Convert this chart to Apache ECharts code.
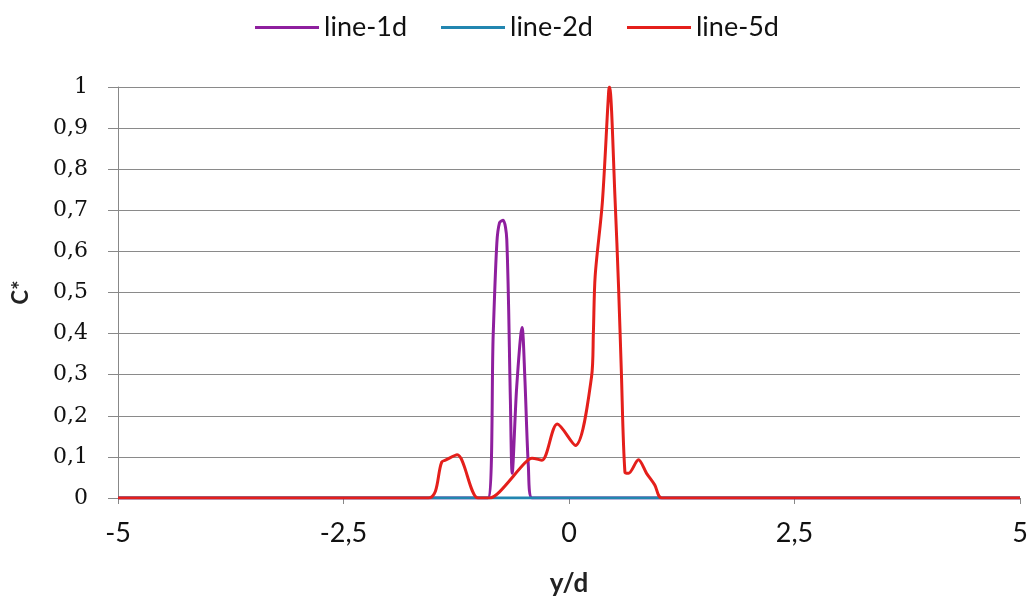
<!DOCTYPE html>
<html>
<head>
<meta charset="utf-8">
<script src="https://cdn.jsdelivr.net/npm/echarts@6/dist/echarts.min.js"></script>
<style>html,body{margin:0;padding:0;background:#fff}#c{width:1034px;height:603px}</style>
</head>
<body>
<div id="c"></div>
<script>
const seriesNames = ['line-1d', 'line-2d', 'line-5d'];
const line1dX = [-5, -0.90, -0.84, -0.80, -0.77, -0.73, -0.69, -0.65, -0.63, -0.58, -0.52, -0.49, -0.45, -0.41, 5];
const line1dY = [0, 0, 0.40, 0.62, 0.67, 0.676, 0.63, 0.24, 0.06, 0.27, 0.415, 0.295, 0.075, 0, 0];
const line2dX = [-5, 5];
const line2dY = [0, 0];
const line5dX = [-5, -1.56, -1.41, -1.37, -1.24, -1.01, -0.88, -0.77, -0.49, -0.41, -0.30, -0.13, 0.07, 0.25, 0.27, 0.29, 0.37, 0.44, 0.45, 0.51, 0.55, 0.58, 0.62, 0.66, 0.77, 0.86, 0.95, 1.03, 5];
const line5dY = [0, 0, 0.088, 0.092, 0.105, 0, 0, 0.015, 0.085, 0.097, 0.092, 0.18, 0.128, 0.295, 0.40, 0.54, 0.72, 0.99, 1.0, 0.73, 0.51, 0.31, 0.063, 0.06, 0.093, 0.06, 0.032, 0, 0];
const xTicks = [-5, -2.5, 0, 2.5, 5];
const yTicks = [0, 0.1, 0.2, 0.3, 0.4, 0.5, 0.6, 0.7, 0.8, 0.9, 1];
const colors = ['#8e1f9e', '#2286b0', '#e41f1b'];

const zip = (xs, ys) => xs.map((x, i) => [x, ys[i]]);
const fmt = v => String(Math.round(v * 100) / 100).replace('.', ',');
const sans = 'Lato, "Open Sans", sans-serif';
const serif = '"DejaVu Serif", "Liberation Serif", serif';

const chart = echarts.init(document.getElementById('c'), null, {renderer: 'canvas'});
chart.setOption({
  animation: false,
  color: colors,
  legend: {
    top: 9,
    left: 'center',
    itemGap: 34,
    itemWidth: 64,
    itemHeight: 3,
    icon: 'rect',
    textStyle: {fontFamily: sans, fontSize: 27, color: '#111'},
    data: seriesNames
  },
  grid: {left: 118, right: 14, top: 87, bottom: 105, containLabel: false},
  xAxis: {
    type: 'value',
    min: -5, max: 5, interval: 2.5,
    name: 'y/d', nameLocation: 'middle', nameGap: 73,
    nameTextStyle: {fontFamily: sans, fontSize: 26, fontWeight: 'bold', color: '#222'},
    axisLine: {show: true, onZero: false, lineStyle: {color: '#888', width: 1}},
    axisTick: {show: true, length: 6, lineStyle: {color: '#888'}},
    axisLabel: {fontFamily: sans, fontSize: 27, color: '#111', margin: 22, formatter: fmt},
    splitLine: {show: false}
  },
  yAxis: {
    type: 'value',
    min: 0, max: 1, interval: 0.1,
    name: 'C*', nameLocation: 'middle', nameGap: 86, nameRotate: 90,
    nameTextStyle: {fontFamily: sans, fontSize: 22, fontWeight: 'bold', color: '#222'},
    axisLine: {show: true, onZero: false, lineStyle: {color: '#888', width: 1}},
    axisTick: {show: true, length: 10, lineStyle: {color: '#888'}},
    axisLabel: {fontFamily: serif, fontSize: 22, color: '#111', margin: 30, formatter: fmt},
    splitLine: {show: true, lineStyle: {color: '#8a8a8a', width: 1}}
  },
  series: [
    {name: seriesNames[0], type: 'line', data: zip(line1dX, line1dY), showSymbol: false, smooth: 0.3, lineStyle: {width: 3}, z: 2},
    {name: seriesNames[1], type: 'line', data: zip(line2dX, line2dY), showSymbol: false, lineStyle: {width: 3}, z: 3},
    {name: seriesNames[2], type: 'line', data: zip(line5dX, line5dY), showSymbol: false, smooth: 0.3, lineStyle: {width: 3}, z: 4}
  ]
});
</script>
</body>
</html>
